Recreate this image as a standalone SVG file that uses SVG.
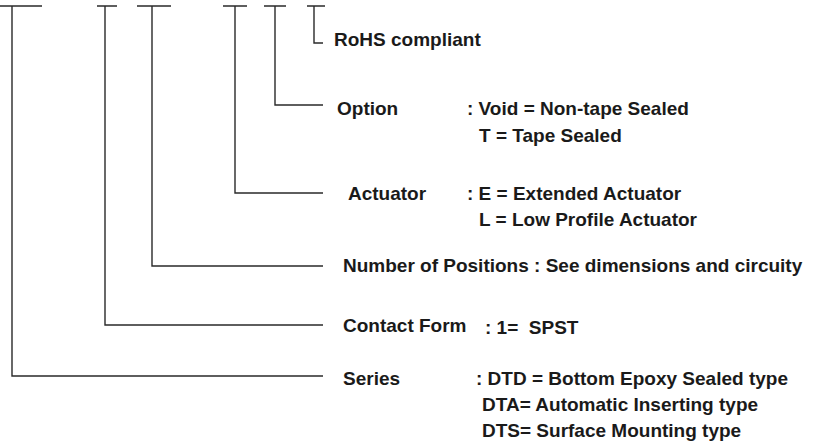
<svg xmlns="http://www.w3.org/2000/svg" width="826" height="448" viewBox="0 0 826 448">
<style>
.ln{fill:none;stroke:#2a2a2a;stroke-width:1.4}
.t{font-family:"Liberation Sans",Arial,sans-serif;font-weight:bold;font-size:19px;fill:#1a1a1a;white-space:pre}
</style>
<rect width="826" height="448" fill="#fff"/>
<g id="connectors">
<path class="ln" d="M0 6H42M12 6V376H323"/>
<path class="ln" d="M97 6H117M105 6V325H323"/>
<path class="ln" d="M137 6H171M152 6V266H323"/>
<path class="ln" d="M223 6H247M235 6V193H323"/>
<path class="ln" d="M264 6H286M275 6V105H323"/>
<path class="ln" d="M307 6H325M314 6V43H323"/>
</g>
<g id="rohs"><text class="t" x="334" y="46">RoHS compliant</text></g>
<g id="option">
<text class="t" x="337" y="115">Option</text>
<text class="t" x="467" y="115">: Void = Non-tape Sealed</text>
<text class="t" x="479" y="142">T = Tape Sealed</text>
</g>
<g id="actuator">
<text class="t" x="348" y="200">Actuator</text>
<text class="t" x="467" y="200">: E = Extended Actuator</text>
<text class="t" x="479" y="226">L = Low Profile Actuator</text>
</g>
<g id="positions"><text class="t" x="343" y="272">Number of Positions : See dimensions and circuity</text></g>
<g id="contact">
<text class="t" x="343" y="332">Contact Form</text>
<text class="t" x="485" y="334">: 1=  SPST</text>
</g>
<g id="series">
<text class="t" x="343" y="385">Series</text>
<text class="t" x="476" y="385">: DTD = Bottom Epoxy Sealed type</text>
<text class="t" x="482" y="411">DTA= Automatic Inserting type</text>
<text class="t" x="482" y="437">DTS= Surface Mounting type</text>
</g>
</svg>
